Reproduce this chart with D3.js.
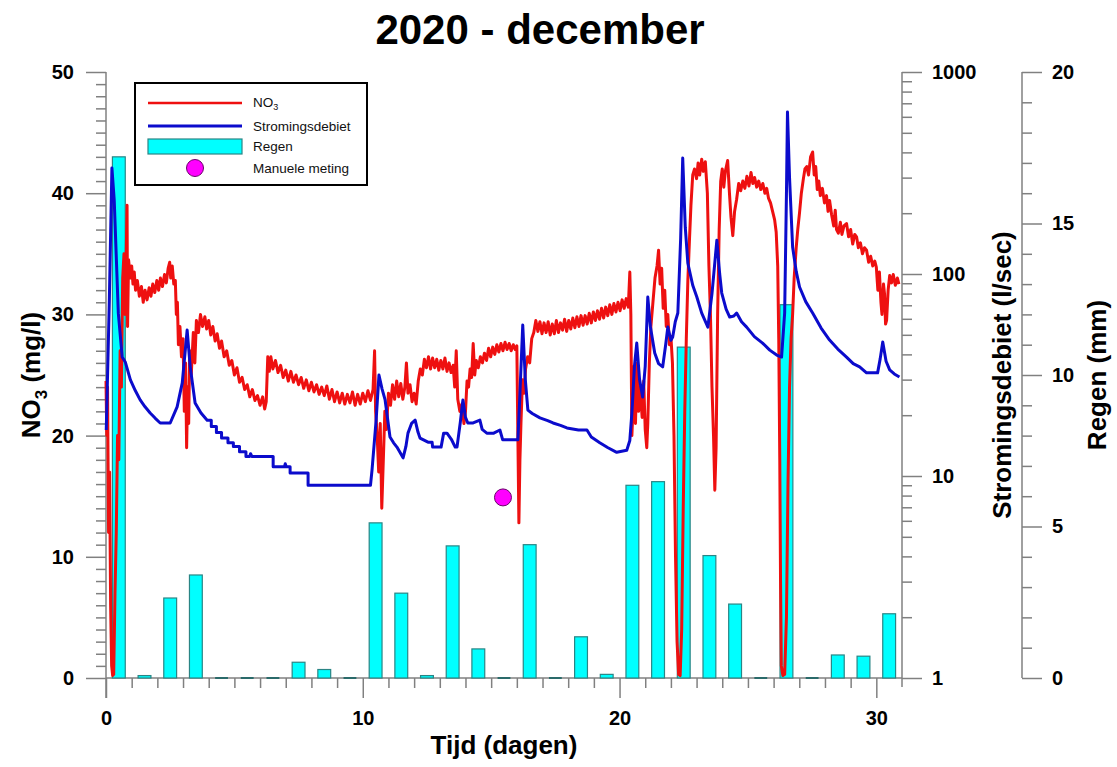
<!DOCTYPE html>
<html>
<head>
<meta charset="utf-8">
<title>2020 - december</title>
<script src="https://d3js.org/d3.v7.min.js"></script>
<style>
    html, body {
        margin: 0;
        background: #fff;
    }
    svg {
        display: block;
        font-family: "Liberation Sans", Arial, sans-serif;
    }
</style>
</head>
<body>
<svg id="svg"></svg>
<script>
    // daily rain (bar centred on the middle of each day)
    const rainDays = [0.5, 1.5, 2.5, 3.5, 4.5, 5.5, 6.5, 7.5, 8.5, 9.5, 10.5, 11.5, 12.5, 13.5, 14.5, 15.5,
        16.5, 17.5, 18.5, 19.5, 20.5, 21.5, 22.5, 23.5, 24.5, 25.5, 26.5, 27.5, 28.5, 29.5, 30.5];
    const rainMm = [17.2, 0.08, 2.64, 3.4, 0, 0, 0, 0.52, 0.28, 0, 5.12, 2.8, 0.08, 4.36, 0.96, 0,
        4.4, 0, 1.36, 0.12, 6.36, 6.48, 10.92, 4.04, 2.44, 0, 12.32, 0, 0.76, 0.72, 2.12];

    // NO3 (mg/l) : [day, value]
    const no3Series = [
        [0.00, 24.5], [0.03, 20], [0.06, 24], [0.10, 12], [0.14, 17], [0.18, 6], [0.22, 1], [0.26, 0.2], [0.30, 0.3],
        [0.35, 7], [0.40, 12], [0.45, 20], [0.50, 18], [0.55, 27], [0.60, 24], [0.65, 33], [0.70, 35], [0.74, 30],
        [0.78, 34], [0.82, 39], [0.84, 29], [0.88, 34.5], [0.95, 33], [1.00, 34], [1.05, 32.5], [1.10, 33.5],
        [1.15, 32], [1.22, 32.8], [1.30, 31.5], [1.38, 32.3], [1.45, 31], [1.52, 32], [1.60, 31.2], [1.68, 32.2],
        [1.75, 31.5], [1.82, 32.5], [1.90, 31.8], [1.98, 32.8], [2.05, 32], [2.12, 33], [2.20, 32.3], [2.28, 33.3],
        [2.35, 32.6], [2.42, 33.8], [2.48, 34.3], [2.52, 33], [2.58, 34], [2.64, 32.5], [2.70, 32.8], [2.74, 30],
        [2.78, 31], [2.82, 27.5], [2.88, 29], [2.94, 26.5], [3.00, 28], [3.05, 22], [3.10, 26], [3.14, 19],
        [3.18, 24], [3.22, 21], [3.26, 27], [3.32, 25], [3.40, 28.5], [3.46, 26], [3.52, 29.5], [3.60, 28.5],
        [3.68, 30], [3.76, 29], [3.85, 29.8], [3.92, 28.8], [4.00, 29.5], [4.08, 28.3], [4.16, 29], [4.25, 27.8],
        [4.33, 28.4], [4.42, 27.2], [4.50, 27.8], [4.60, 26.5], [4.70, 27], [4.80, 25.8], [4.90, 26.2], [5.00, 25.0],
        [5.10, 25.6], [5.20, 24.4], [5.30, 24.8], [5.40, 23.8], [5.50, 24.2], [5.60, 23.2], [5.70, 23.8], [5.80, 22.9],
        [5.90, 23.3], [6.00, 22.5], [6.10, 23.2], [6.18, 22.2], [6.24, 22.8], [6.30, 26.5], [6.36, 25.3], [6.42, 26.5],
        [6.50, 25.5], [6.60, 26.2], [6.70, 25.2], [6.80, 25.8], [6.90, 24.8], [7.00, 25.4], [7.10, 24.5], [7.20, 25.3],
        [7.30, 24.4], [7.40, 25], [7.50, 24.2], [7.60, 24.8], [7.70, 23.9], [7.80, 24.6], [7.90, 23.7], [8.00, 24.4],
        [8.10, 23.6], [8.20, 24.2], [8.30, 23.4], [8.40, 24.0], [8.50, 23.3], [8.60, 24.1], [8.70, 23.0], [8.80, 23.8],
        [8.90, 22.8], [9.00, 23.6], [9.10, 22.7], [9.20, 23.5], [9.30, 22.6], [9.40, 23.4], [9.50, 22.7], [9.60, 23.6],
        [9.70, 22.5], [9.80, 23.4], [9.90, 22.6], [10.00, 23.5], [10.10, 22.8], [10.20, 23.7], [10.30, 22.9],
        [10.40, 23.8], [10.46, 27], [10.50, 22], [10.56, 20], [10.62, 17], [10.68, 21], [10.74, 14], [10.80, 18],
        [10.86, 22], [10.92, 20.5], [11.00, 23.5], [11.08, 22.5], [11.16, 24.2], [11.24, 23], [11.32, 24.5],
        [11.40, 23.2], [11.48, 24.3], [11.56, 23], [11.64, 24], [11.70, 26], [11.76, 23.5], [11.84, 24.2],
        [11.92, 22.8], [12.00, 23.5], [12.08, 22.6], [12.16, 24.5], [12.24, 25.5], [12.32, 25], [12.40, 26.3],
        [12.48, 25.6], [12.56, 26.5], [12.64, 25.5], [12.72, 26.4], [12.80, 25.6], [12.88, 26.3], [12.96, 25.4],
        [13.04, 26.2], [13.12, 25.5], [13.20, 26.4], [13.28, 25.3], [13.36, 26], [13.44, 25.2], [13.52, 25.8],
        [13.58, 24], [13.64, 27], [13.70, 23], [13.78, 22], [13.86, 22.6], [13.94, 21], [14.00, 22], [14.06, 24.5],
        [14.12, 24], [14.18, 25.5], [14.24, 24.8], [14.30, 27.6], [14.36, 25], [14.42, 26.2], [14.50, 25.6],
        [14.58, 26.5], [14.66, 26], [14.74, 26.8], [14.82, 26.2], [14.90, 27.2], [14.98, 26.5], [15.06, 27.3],
        [15.14, 26.7], [15.22, 27.5], [15.30, 26.9], [15.38, 27.6], [15.46, 27], [15.54, 27.7], [15.62, 27.1],
        [15.70, 27.6], [15.78, 27.0], [15.86, 27.5], [15.94, 27.1], [16.00, 27.4], [16.04, 20], [16.08, 12.8],
        [16.12, 18], [16.16, 21], [16.22, 24.6], [16.28, 23.5], [16.34, 25.5], [16.42, 26.5], [16.50, 26],
        [16.58, 28], [16.66, 28.5], [16.74, 29.5], [16.82, 28.6], [16.90, 29.4], [16.98, 28.4], [17.06, 29.3],
        [17.14, 28.5], [17.22, 29.4], [17.30, 28.3], [17.38, 29.2], [17.46, 28.4], [17.54, 29.5], [17.62, 28.5],
        [17.70, 29.3], [17.78, 28.7], [17.86, 29.6], [17.94, 28.6], [18.02, 29.5], [18.10, 28.8], [18.18, 29.7],
        [18.26, 28.9], [18.34, 29.8], [18.42, 29], [18.50, 29.9], [18.58, 29.1], [18.66, 29.9], [18.74, 29.2],
        [18.82, 30.1], [18.90, 29.3], [18.98, 30.2], [19.06, 29.5], [19.14, 30.3], [19.22, 29.6], [19.30, 30.5],
        [19.38, 29.7], [19.46, 30.6], [19.54, 29.9], [19.62, 30.8], [19.70, 30], [19.78, 30.9], [19.86, 30.2],
        [19.94, 31.0], [20.02, 30.3], [20.10, 31.2], [20.18, 30.5], [20.26, 31.3], [20.34, 30.6], [20.40, 33.5],
        [20.44, 30], [20.48, 20], [20.52, 22], [20.56, 25.7], [20.62, 21], [20.68, 26], [20.74, 22], [20.80, 24],
        [20.88, 21.5], [20.94, 24.5], [21.00, 20.5], [21.06, 19], [21.10, 21], [21.16, 26], [21.22, 29], [21.30, 31],
        [21.38, 33], [21.46, 34], [21.52, 35.3], [21.58, 32.5], [21.64, 33.8], [21.70, 30.5], [21.76, 32], [21.82, 29],
        [21.88, 30], [21.94, 27.5], [22.00, 28.2], [22.06, 26], [22.12, 20], [22.18, 10], [22.24, 3], [22.30, 0.3],
        [22.36, 0.2], [22.42, 4], [22.48, 14], [22.54, 22], [22.60, 28], [22.66, 32.8], [22.72, 36], [22.78, 39],
        [22.85, 41.5], [22.92, 42], [23.00, 41.2], [23.06, 42.5], [23.12, 41.5], [23.20, 42.8], [23.26, 41.8],
        [23.34, 42.6], [23.42, 40], [23.48, 34], [23.54, 30], [23.60, 24], [23.66, 20], [23.71, 15.5], [23.76, 19],
        [23.82, 30], [23.88, 37], [23.94, 41], [24.00, 42], [24.06, 40.5], [24.12, 41.8], [24.21, 42.7], [24.28, 40],
        [24.34, 38], [24.41, 36.5], [24.48, 38.5], [24.56, 39.5], [24.64, 40.8], [24.72, 40.2], [24.80, 41],
        [24.88, 40.4], [24.96, 41.4], [25.04, 40.6], [25.12, 41.7], [25.19, 40.8], [25.26, 41.3], [25.34, 40.5],
        [25.42, 41], [25.50, 40.3], [25.58, 40.8], [25.66, 40], [25.73, 40.4], [25.80, 39.6], [25.88, 39.2],
        [25.96, 38.5], [26.04, 37.8], [26.10, 36.8], [26.16, 34], [26.20, 28], [26.24, 18], [26.27, 8], [26.30, 1],
        [26.36, 0.2], [26.43, 0.3], [26.50, 5], [26.56, 16], [26.62, 24], [26.68, 28], [26.74, 30], [26.80, 33],
        [26.88, 35.5], [26.94, 37], [27.01, 38.4], [27.08, 40], [27.16, 41.2], [27.22, 42], [27.29, 42.2],
        [27.36, 41.5], [27.44, 43], [27.52, 43.4], [27.58, 41.5], [27.64, 42.2], [27.70, 40.3], [27.76, 41],
        [27.82, 39.8], [27.90, 40.4], [27.98, 39.2], [28.06, 39.8], [28.12, 38.5], [28.18, 39.4], [28.26, 38.2],
        [28.34, 37.3], [28.40, 38.6], [28.45, 37], [28.52, 36.7], [28.60, 37.6], [28.66, 36.6], [28.74, 37.3],
        [28.84, 37.5], [28.92, 36.4], [29.00, 37], [29.08, 35.8], [29.16, 36.6], [29.23, 36.4], [29.30, 35.5],
        [29.38, 35.9], [29.46, 35], [29.54, 35.5], [29.62, 35.3], [29.70, 34.3], [29.78, 34.8], [29.86, 34],
        [29.94, 34.4], [30.00, 33.9], [30.06, 32], [30.12, 33.5], [30.18, 31], [30.22, 30], [30.28, 32.5],
        [30.32, 31.7], [30.36, 29.2], [30.40, 29.5], [30.46, 32], [30.52, 33.2], [30.59, 32.6], [30.66, 33.3],
        [30.74, 32.4], [30.82, 33], [30.88, 32.5]
    ];

    // Stromingsdebiet (l/sec) : [day, value]
    const flowSeries = [
        [0.01, 16.9], [0.13, 74], [0.23, 335], [0.32, 232], [0.48, 64], [0.63, 38.8], [0.75, 36.7], [0.95, 29.9],
        [1.14, 26.5], [1.33, 23.8], [1.52, 22], [1.72, 20.5], [1.92, 19.3], [2.11, 18.3], [2.50, 18.3], [2.77, 22],
        [2.97, 28.9], [3.16, 52.8], [3.28, 34.7], [3.47, 23], [3.70, 20.5], [3.94, 18.9], [4.10, 18.9], [4.10, 17.6],
        [4.30, 17.6], [4.30, 16.4], [4.50, 16.4], [4.50, 15.4], [4.75, 15.4], [4.75, 14.6], [4.96, 14.6], [4.96, 14.0],
        [5.20, 14.0], [5.20, 13.2], [5.45, 13.2], [5.45, 12.5], [5.60, 12.5], [5.63, 12.9], [5.68, 12.5], [6.51, 12.5],
        [6.51, 11.1], [6.95, 11.1], [6.98, 11.5], [7.02, 11.1], [7.17, 11.1], [7.17, 10.35], [7.87, 10.35],
        [7.87, 9.0], [10.30, 9.0], [10.36, 10.7], [10.52, 18.9], [10.63, 31.6], [10.75, 27], [10.87, 23.8],
        [11.06, 15.6], [11.20, 14.6], [11.33, 13.9], [11.57, 12.3], [11.68, 14], [11.76, 16.3], [11.90, 18.2],
        [12.04, 18.9], [12.15, 16.5], [12.23, 15.4], [12.54, 14.7], [12.70, 14.7], [12.72, 13.9], [13.05, 13.9],
        [13.15, 16.3], [13.28, 16.3], [13.45, 15.2], [13.60, 13.9], [13.67, 13.9], [13.80, 18.5], [13.90, 23.8],
        [14.00, 19.5], [14.09, 18.3], [14.30, 18.3], [14.56, 18.9], [14.65, 17], [14.83, 16.3], [15.10, 16.3],
        [15.34, 16.9], [15.45, 15.1], [16.04, 15.1], [16.11, 23.8], [16.23, 55.9], [16.33, 30], [16.43, 21.2],
        [16.60, 20.4], [16.90, 19.4], [17.20, 18.8], [17.41, 18.3], [17.70, 17.8], [17.95, 17.3], [18.40, 16.9],
        [18.73, 16.9], [18.90, 15.6], [19.23, 14.6], [19.55, 13.8], [19.89, 13.1], [20.28, 13.4], [20.40, 15],
        [20.48, 20.5], [20.58, 35], [20.67, 45.5], [20.78, 30], [20.90, 24.6], [21.00, 35], [21.10, 76.9],
        [21.20, 55], [21.37, 40.6], [21.52, 36], [21.68, 34.7], [21.80, 45], [21.88, 54.6], [22.00, 47],
        [22.07, 48.8], [22.17, 58], [22.27, 64.1], [22.38, 150], [22.46, 375], [22.56, 170], [22.66, 113],
        [22.85, 88], [23.01, 76.9], [23.20, 64], [23.44, 54.6], [23.60, 80], [23.79, 147], [23.90, 100],
        [23.98, 80.5], [24.15, 67], [24.29, 61.2], [24.45, 62], [24.56, 64.1], [24.75, 58], [24.95, 54.6],
        [25.25, 49], [25.57, 45.5], [25.85, 42], [26.12, 39.7], [26.31, 38.8], [26.43, 64.1], [26.50, 250],
        [26.54, 634], [26.62, 300], [26.74, 136], [26.88, 103], [27.01, 86.2], [27.25, 73], [27.52, 64.1],
        [27.85, 54], [28.18, 47.1], [28.50, 42.5], [28.84, 38.8], [29.10, 36], [29.35, 34.7], [29.62, 32.4],
        [30.05, 32.4], [30.15, 38], [30.25, 46.1], [30.38, 37], [30.52, 33.5], [30.70, 32], [30.90, 30.9]
    ];

    const manualPoints = [[15.46, 14.9]];

    const dayTicks = [0, 10, 20, 30];
    const no3Ticks = [0, 10, 20, 30, 40, 50];
    const flowTicks = [1, 10, 100, 1000];
    const rainTicks = [0, 5, 10, 15, 20];

    const width = 1117, height = 767;
    const plot = { left: 106, right: 902, top: 72, bottom: 678 };
    const rainAxisX = 1022;
    const axisColor = "#808080";

    const svg = d3.select("#svg")
        .attr("width", width)
        .attr("height", height);

    svg.append("rect").attr("width", width).attr("height", height).attr("fill", "#fff");

    const x = d3.scaleLinear().domain([0, 31]).range([plot.left, plot.right]);
    const yNo3 = d3.scaleLinear().domain([0, 50]).range([plot.bottom, plot.top]);
    const yFlow = d3.scaleLog().domain([1, 1000]).range([plot.bottom, plot.top]);
    const yRain = d3.scaleLinear().domain([0, 20]).range([plot.bottom, plot.top]);

    // title
    svg.append("text")
        .attr("x", 540).attr("y", 44)
        .attr("text-anchor", "middle")
        .style("font-size", "42px").style("font-weight", "bold")
        .text("2020 - december");

    function styleAxis(g) {
        g.select(".domain").remove();
        g.selectAll("line").attr("stroke", axisColor).attr("stroke-width", 1.5);
        g.selectAll("text").attr("fill", "#000")
            .style("font-size", "20px").style("font-weight", "bold")
            .style("font-family", "'Liberation Sans', Arial, sans-serif");
    }

    // axis lines
    const axisLines = svg.append("g").attr("stroke", axisColor).attr("stroke-width", 1.5);
    axisLines.append("line").attr("x1", plot.left).attr("x2", plot.left).attr("y1", plot.top).attr("y2", plot.bottom + 20);
    axisLines.append("line").attr("x1", plot.left).attr("x2", plot.right).attr("y1", plot.bottom).attr("y2", plot.bottom);
    axisLines.append("line").attr("x1", plot.right).attr("x2", plot.right).attr("y1", plot.top).attr("y2", plot.bottom + 9);
    axisLines.append("line").attr("x1", rainAxisX).attr("x2", rainAxisX).attr("y1", plot.top).attr("y2", plot.bottom);

    // left NO3 axis
    svg.append("g").attr("transform", `translate(${plot.left},0)`)
        .call(d3.axisLeft(yNo3).tickValues(d3.range(0, 51).filter(v => v % 10)).tickSize(10).tickFormat(""))
        .call(styleAxis);
    svg.append("g").attr("transform", `translate(${plot.left},0)`)
        .call(d3.axisLeft(yNo3).tickValues(no3Ticks).tickSize(20).tickPadding(12))
        .call(styleAxis);

    // bottom day axis
    svg.append("g").attr("transform", `translate(0,${plot.bottom})`)
        .call(d3.axisBottom(x).tickValues(d3.range(1, 31).filter(v => v % 10)).tickSize(10).tickFormat(""))
        .call(styleAxis);
    svg.append("g").attr("transform", `translate(0,${plot.bottom})`)
        .call(d3.axisBottom(x).tickValues(dayTicks).tickSize(20).tickPadding(13))
        .call(styleAxis);

    // right log flow axis
    const flowMinor = [];
    [1, 10, 100].forEach(dec => d3.range(2, 10).forEach(m => flowMinor.push(dec * m)));
    svg.append("g").attr("transform", `translate(${plot.right},0)`)
        .call(d3.axisRight(yFlow).tickValues(flowMinor).tickSize(10).tickFormat(""))
        .call(styleAxis);
    svg.append("g").attr("transform", `translate(${plot.right},0)`)
        .call(d3.axisRight(yFlow).tickValues(flowTicks).tickSize(20).tickPadding(10).tickFormat(d3.format("d")))
        .call(styleAxis);

    // rain axis
    svg.append("g").attr("transform", `translate(${rainAxisX},0)`)
        .call(d3.axisRight(yRain).tickValues(d3.range(1, 20).filter(v => v % 5)).tickSize(10).tickFormat(""))
        .call(styleAxis);
    svg.append("g").attr("transform", `translate(${rainAxisX},0)`)
        .call(d3.axisRight(yRain).tickValues(rainTicks).tickSize(20).tickPadding(10))
        .call(styleAxis);

    // axis titles
    const no3Title = svg.append("text")
        .attr("transform", `translate(40,${(plot.top + plot.bottom) / 2}) rotate(-90)`)
        .attr("text-anchor", "middle")
        .style("font-size", "26px").style("font-weight", "bold");
    no3Title.append("tspan").text("NO");
    no3Title.append("tspan").attr("dy", 7).style("font-size", "17px").text("3");
    no3Title.append("tspan").attr("dy", -7).text(" (mg/l)");

    svg.append("text")
        .attr("x", (plot.left + plot.right) / 2).attr("y", 754)
        .attr("text-anchor", "middle")
        .style("font-size", "26px").style("font-weight", "bold")
        .text("Tijd (dagen)");

    svg.append("text")
        .attr("transform", `translate(1011,${(plot.top + plot.bottom) / 2}) rotate(-90)`)
        .attr("text-anchor", "middle")
        .style("font-size", "26px").style("font-weight", "bold")
        .text("Stromingsdebiet (l/sec)");

    svg.append("text")
        .attr("transform", `translate(1106,${(plot.top + plot.bottom) / 2}) rotate(-90)`)
        .attr("text-anchor", "middle")
        .style("font-size", "26px").style("font-weight", "bold")
        .text("Regen (mm)");

    // rain bars (zero days still show their outline as a short dash on the baseline)
    const barW = x(0.5) - x(0);
    const rainData = rainDays.map((d, i) => [d, rainMm[i]]);
    const bars = svg.append("g");
    bars.selectAll("rect")
        .data(rainData.filter(d => d[1] > 0))
        .enter()
        .append("rect")
        .attr("x", d => x(d[0]) - barW / 2)
        .attr("width", barW)
        .attr("y", d => yRain(d[1]))
        .attr("height", d => yRain(0) - yRain(d[1]))
        .attr("fill", "#00ffff")
        .attr("stroke", "#2a8585")
        .attr("stroke-width", 1.2);
    bars.selectAll("line")
        .data(rainData.filter(d => d[1] === 0))
        .enter()
        .append("line")
        .attr("x1", d => x(d[0]) - barW / 2)
        .attr("x2", d => x(d[0]) + barW / 2)
        .attr("y1", d => yRain(d[1]))
        .attr("y2", d => yRain(d[1]))
        .attr("stroke", "#2a6a6a")
        .attr("stroke-width", 2);

    // NO3 line
    svg.append("path")
        .datum(no3Series)
        .attr("fill", "none")
        .attr("stroke", "#ee1010")
        .attr("stroke-width", 3)
        .attr("stroke-linejoin", "round")
        .attr("d", d3.line().x(d => x(d[0])).y(d => yNo3(d[1])));

    // flow line
    svg.append("path")
        .datum(flowSeries)
        .attr("fill", "none")
        .attr("stroke", "#0b0bcc")
        .attr("stroke-width", 3)
        .attr("stroke-linejoin", "round")
        .attr("d", d3.line().x(d => x(d[0])).y(d => yFlow(d[1])));

    // manual measurement
    svg.append("g").selectAll("circle")
        .data(manualPoints)
        .enter()
        .append("circle")
        .attr("cx", d => x(d[0]))
        .attr("cy", d => yNo3(d[1]))
        .attr("r", 8.5)
        .attr("fill", "#ff00ff")
        .attr("stroke", "#6a006a")
        .attr("stroke-width", 1);

    // legend
    const legend = svg.append("g");
    legend.append("rect")
        .attr("x", 135).attr("y", 83).attr("width", 232).attr("height", 102)
        .attr("fill", "#fff").attr("stroke", "#000").attr("stroke-width", 2);
    legend.append("line").attr("x1", 148).attr("x2", 242).attr("y1", 103).attr("y2", 103)
        .attr("stroke", "#ee1010").attr("stroke-width", 2.6);
    legend.append("line").attr("x1", 148).attr("x2", 242).attr("y1", 126).attr("y2", 126)
        .attr("stroke", "#0b0bcc").attr("stroke-width", 3);
    legend.append("rect").attr("x", 148).attr("y", 139).attr("width", 94).attr("height", 15)
        .attr("fill", "#00ffff").attr("stroke", "#2a8585").attr("stroke-width", 1.2);
    legend.append("circle").attr("cx", 195).attr("cy", 168).attr("r", 8.5)
        .attr("fill", "#ff00ff").attr("stroke", "#6a006a").attr("stroke-width", 1);

    const legendText = legend.append("g").style("font-size", "13.5px").attr("fill", "#111");
    const no3Label = legendText.append("text").attr("x", 253).attr("y", 107);
    no3Label.append("tspan").text("NO");
    no3Label.append("tspan").attr("dy", 3).style("font-size", "9px").text("3");
    legendText.append("text").attr("x", 253).attr("y", 131).text("Stromingsdebiet");
    legendText.append("text").attr("x", 253).attr("y", 151).text("Regen");
    legendText.append("text").attr("x", 253).attr("y", 173).text("Manuele meting");
</script>
</body>
</html>
